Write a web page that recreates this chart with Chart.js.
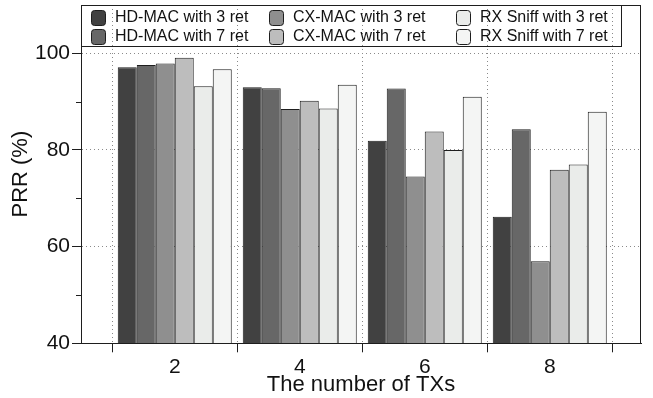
<!DOCTYPE html>
<html><head><meta charset="utf-8">
<script src="https://cdn.jsdelivr.net/npm/chart.js@4.4.1/dist/chart.umd.min.js"></script>
<style>html,body{margin:0;padding:0;background:#fff}#wrap{width:653px;height:398px}</style>
</head><body><div id="wrap"><canvas id="c" width="653" height="398"></canvas></div>
<script>
// ---- data ----
const txCounts = [2, 4, 6, 8];
const seriesNames = ['HD-MAC with 3 ret', 'HD-MAC with 7 ret', 'CX-MAC with 3 ret',
                     'CX-MAC with 7 ret', 'RX Sniff with 3 ret', 'RX Sniff with 7 ret'];
const hdMac3   = [97.1, 93.0, 81.9, 66.2];
const hdMac7   = [97.6, 92.8, 92.7, 84.3];
const cxMac3   = [97.9, 88.5, 74.5, 57.0];
const cxMac7   = [99.1, 90.2, 83.8, 75.9];
const rxSniff3 = [93.2, 88.6, 80.0, 77.0];
const rxSniff7 = [96.7, 93.5, 91.0, 87.9];
const yTickLabels = [40, 60, 80, 100];
const yMinorTicks = [50, 70, 90];
const xBoundaryTicks = [1, 3, 5, 7, 9];

const seriesValues = [hdMac3, hdMac7, cxMac3, cxMac7, rxSniff3, rxSniff7];
const fills = ['#414141', '#676767', '#8f8f8f', '#bdbdbd', '#eaecea', '#f4f5f4'];
const FONT = "'Liberation Sans', Arial, Helvetica, sans-serif";

const datasets = seriesValues.map((vals, i) => ({
  label: seriesNames[i],
  data: vals.map((v, j) => ({ x: txCounts[j], y: v })),
  backgroundColor: fills[i],
  borderColor: '#1e1e1e',
  borderWidth: 1,
  categoryPercentage: 1.824,
  barPercentage: 1.0
}));

const extras = {
  id: 'extras',
  afterDraw(chart) {
    const ctx = chart.ctx, a = chart.chartArea, ys = chart.scales.y;
    ctx.save();
    // frame
    ctx.strokeStyle = '#1e1e1e';
    ctx.lineWidth = 1;
    ctx.strokeRect(Math.round(a.left) + 0.5, Math.round(a.top) + 0.5,
                   Math.round(a.right - a.left) - 1, Math.round(a.bottom - a.top));
    // minor y ticks
    ctx.beginPath();
    yMinorTicks.forEach(v => {
      const py = Math.round(ys.getPixelForValue(v)) + 0.5;
      ctx.moveTo(a.left - 5, py); ctx.lineTo(a.left, py);
    });
    ctx.stroke();
    // legend
    const lx = Math.round(a.left) + 0.5, ly = Math.round(a.top) + 0.5;
    const lw = 540, lh = 41;
    ctx.strokeRect(lx, ly, lw, lh);
    const colText = [34, 212, 399];
    const rowY = [12, 31];
    ctx.font = '16px ' + FONT;
    ctx.textBaseline = 'middle';
    ctx.textAlign = 'left';
    chart.data.datasets.forEach((ds, i) => {
      const col = Math.floor(i / 2), row = i % 2;
      const tx = a.left + colText[col], cy = a.top + rowY[row];
      const sx = tx - 24, sy = cy - 7.5;
      ctx.beginPath();
      ctx.roundRect(Math.round(sx) + 0.5, Math.round(sy) + 0.5, 14, 15, 3);
      ctx.fillStyle = ds.backgroundColor;
      ctx.fill();
      ctx.strokeStyle = '#1e1e1e';
      ctx.stroke();
      ctx.fillStyle = '#111';
      ctx.fillText(ds.label, tx, cy + 1);
    });
    ctx.restore();
  }
};

new Chart(document.getElementById('c'), {
  type: 'bar',
  data: { datasets },
  plugins: [extras],
  options: {
    responsive: false,
    devicePixelRatio: 1,
    animation: false,
    layout: { padding: { left: 0, top: 5, right: 12, bottom: 0 } },
    plugins: { legend: { display: false }, tooltip: { enabled: false } },
    scales: {
      x: {
        type: 'linear',
        offset: false,
        min: 0.5, max: 9.46,
        afterBuildTicks(s) { s.ticks = [1,2,3,4,5,6,7,8,9].map(v => ({ value: v })); },
        afterFit(s) { s.height = 54.7; s.paddingLeft = 0; s.paddingRight = 0; },
        ticks: {
          color: '#111',
          font: { family: FONT, size: 21 },
          padding: 2,
          maxRotation: 0,
          autoSkip: false,
          callback: v => txCounts.includes(v) ? String(v) : ''
        },
        grid: {
          offset: false,
          color: c => xBoundaryTicks.includes(c.tick && c.tick.value) ? '#8a8a8a' : 'rgba(0,0,0,0)',
          tickColor: c => xBoundaryTicks.includes(c.tick && c.tick.value) ? '#1e1e1e' : 'rgba(0,0,0,0)',
          tickLength: 9,
          lineWidth: 1
        },
        border: { display: true, color: '#1e1e1e', width: 1, dash: [1, 3] },
        title: {
          display: true, text: 'The number of TXs', color: '#111',
          font: { family: FONT, size: 22 }, padding: { top: 0, bottom: 0 }
        }
      },
      y: {
        min: 40, max: 110,
        afterBuildTicks(s) { s.ticks = [40,50,60,70,80,90,100].map(v => ({ value: v })); },
        afterFit(s) { s.width = 81; s.paddingTop = 0; s.paddingBottom = 0; },
        ticks: {
          color: '#111',
          font: { family: FONT, size: 21 },
          padding: 2,
          autoSkip: false,
          callback: v => yTickLabels.includes(v) ? String(v) : ''
        },
        grid: {
          color: c => (yTickLabels.includes(c.tick && c.tick.value) && c.tick.value !== 40) ? '#8a8a8a' : 'rgba(0,0,0,0)',
          tickColor: c => yTickLabels.includes(c.tick && c.tick.value) ? '#1e1e1e' : 'rgba(0,0,0,0)',
          tickLength: 9,
          lineWidth: 1
        },
        border: { display: true, color: '#1e1e1e', width: 1, dash: [1, 3] },
        title: {
          display: true, text: 'PRR (%)', color: '#111',
          font: { family: FONT, size: 22 }, padding: { top: 8, bottom: 0 }
        }
      }
    }
  }
});
</script></body></html>
